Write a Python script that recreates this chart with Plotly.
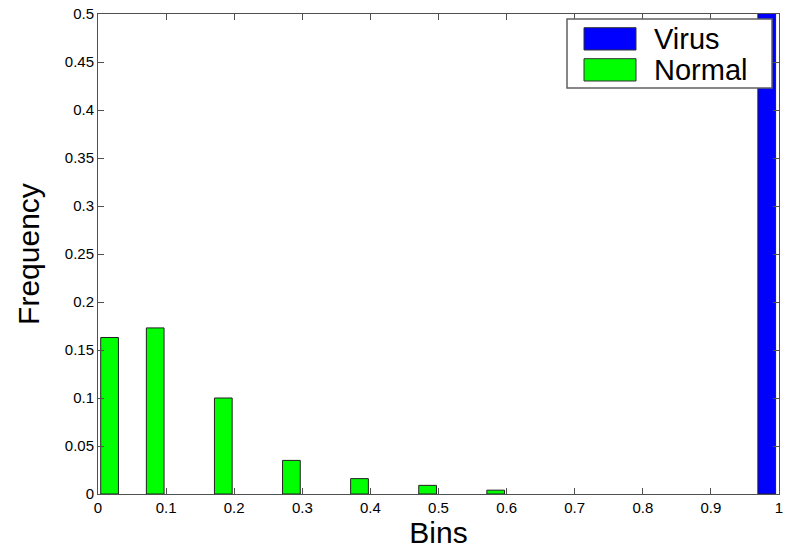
import plotly.graph_objects as go

# Data
normal_bins = [0.017, 0.084, 0.184, 0.284, 0.384, 0.484, 0.584]
normal_freq = [0.163, 0.173, 0.100, 0.035, 0.016, 0.009, 0.004]
virus_bins = [0.982]
virus_freq = [1.0]
x_ticks = [0, 0.1, 0.2, 0.3, 0.4, 0.5, 0.6, 0.7, 0.8, 0.9, 1]
x_tick_labels = ["0", "0.1", "0.2", "0.3", "0.4", "0.5", "0.6", "0.7", "0.8", "0.9", "1"]
y_ticks = [0, 0.05, 0.1, 0.15, 0.2, 0.25, 0.3, 0.35, 0.4, 0.45, 0.5]
y_tick_labels = ["0", "0.05", "0.1", "0.15", "0.2", "0.25", "0.3", "0.35", "0.4", "0.45", "0.5"]
series_names = ["Virus", "Normal"]
series_colors = ["#0000FF", "#00FF00"]

FONT = "Arial, Liberation Sans, sans-serif"
BAR_W = 0.026

fig = go.Figure()
fig.add_trace(go.Bar(x=normal_bins, y=normal_freq, width=BAR_W, name=series_names[1],
                     marker=dict(color=series_colors[1], line=dict(color="#202020", width=1)),
                     showlegend=False))
fig.add_trace(go.Bar(x=virus_bins, y=virus_freq, width=BAR_W, name=series_names[0],
                     marker=dict(color=series_colors[0], line=dict(color="#202020", width=1)),
                     showlegend=False))

axis_common = dict(showgrid=False, zeroline=False, showline=True, linecolor="#505050",
                   linewidth=1, mirror="ticks", ticks="inside", ticklen=6, automargin=False,
                   ticklabeloverflow="allow",
                   tickcolor="#505050", tickfont=dict(family=FONT, size=15, color="#000"))

fig.update_xaxes(range=[0, 1], tickvals=x_ticks, ticktext=x_tick_labels,
                 title=dict(text="Bins", font=dict(family=FONT, size=30, color="#000"), standoff=4),
                 **axis_common)
fig.update_yaxes(range=[0, 0.5], tickvals=y_ticks, ticktext=y_tick_labels,
                 title=dict(text="Frequency", font=dict(family=FONT, size=30, color="#000"), standoff=16),
                 **axis_common)

# Legend drawn in paper coordinates (large MATLAB-style swatches)
L, R, T, B = 98, 779, 14, 494
W, H = R - L, B - T
def px(x):
    return (x - L) / W
def py(y):
    return (B - y) / H

shapes = [
    dict(type="rect", xref="paper", yref="paper", x0=px(567), x1=px(772), y0=py(88), y1=py(19),
         fillcolor="white", line=dict(color="#606060", width=1.5), layer="above"),
]
swatch_rows = [(27.7, 50), (58.7, 81)]
annotations = []
for (y0, y1), name, col in zip(swatch_rows, series_names, series_colors):
    shapes.append(dict(type="rect", xref="paper", yref="paper", x0=px(584), x1=px(636),
                       y0=py(y1), y1=py(y0), fillcolor=col,
                       line=dict(color="#303030", width=1), layer="above"))
    annotations.append(dict(xref="paper", yref="paper", x=px(652), y=py((y0 + y1) / 2),
                            text=name, showarrow=False, xanchor="left", yanchor="middle",
                            font=dict(family=FONT, size=29, color="#000")))

fig.update_layout(
    width=796, height=550,
    margin=dict(l=L, r=796 - R, t=T, b=550 - B, autoexpand=False),
    paper_bgcolor="white", plot_bgcolor="white",
    barmode="overlay", bargap=0,
    shapes=shapes, annotations=annotations,
    showlegend=False, hovermode=False,
)

fig.write_html("out.html", config={"displayModeBar": False, "staticPlot": True},
               post_script="document.body.style.margin='0px';")
